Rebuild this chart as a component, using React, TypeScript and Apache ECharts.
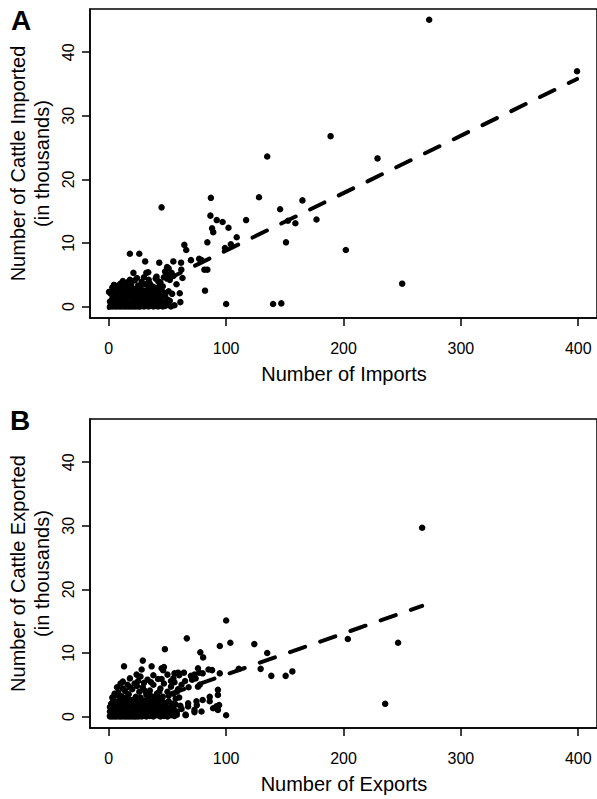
import React, { useEffect, useRef } from "react";
import * as echarts from "echarts";

const xTicks = [0, 100, 200, 300, 400];
const yTicks = [0, 10, 20, 30, 40];

// Panel A: imports (x = number of imports, y = cattle imported, thousands)
const importPoints: [number, number][] = [
  [273, 45.1], [399, 37.0], [189, 26.8], [229, 23.3], [135, 23.6], [165, 16.7], [87, 17.1], [128, 17.2],
  [45, 15.6], [146, 15.3], [177, 13.7], [86.6, 14.3], [92, 13.6], [97, 13.3], [117, 13.6], [159, 13.1],
  [152.7, 13.5], [102, 12.4], [88, 12.3], [89, 11.7], [151, 10.1], [109, 10.9], [104, 9.8], [99, 9.2],
  [84, 10.1], [64.4, 9.7], [66, 8.9], [202, 8.9], [250, 3.6], [18, 8.3], [26, 8.3], [31, 7.1], [43, 6.9],
  [55, 7.1], [61.6, 6.9], [70, 7.3], [77, 7.5], [79, 7.3], [81.5, 5.8], [84, 5.8], [82, 2.5], [100, 0.4],
  [140, 0.4], [147, 0.5], [61, 0.7],
  [1, 0], [2, 0.1], [3, 0], [4, 0.2], [5, 0], [6, 0.1], [7, 0], [8, 0.3], [9, 0], [10, 0.1], [11, 0],
  [12, 0.2], [13, 0], [14, 0.1], [15, 0], [16, 0.3], [17, 0], [18, 0.1], [19, 0], [20, 0.2], [21, 0],
  [22, 0.1], [23, 0], [24, 0.3], [25, 0], [26, 0.1], [27, 0], [28, 0.2], [30, 0], [32, 0.1], [34, 0],
  [36, 0.2], [38, 0], [40, 0.1], [42, 0], [44, 0.2], [46, 0], [48, 0.1], [50, 0.3], [53, 0], [56, 0.2],
  [1, 0.8], [3, 1.2], [5, 0.6], [7, 1.4], [9, 0.9], [11, 1.3], [13, 0.7], [15, 1.1], [17, 0.5], [19, 1.5],
  [21, 0.8], [23, 1.2], [25, 0.6], [27, 1.0], [29, 1.4], [31, 0.7], [33, 1.1], [35, 0.9], [37, 1.3],
  [39, 0.6], [41, 1.0], [43, 0.8], [45, 1.2], [47, 0.7], [50, 1.1], [52, 0.9],
  [2, 2.0], [4, 2.6], [6, 1.8], [8, 2.3], [10, 2.8], [12, 1.9], [14, 2.4], [16, 2.9], [18, 2.1], [20, 2.6],
  [22, 1.7], [24, 2.2], [26, 2.7], [28, 2.0], [30, 2.5], [32, 1.8], [34, 2.9], [36, 2.3], [38, 1.9],
  [40, 2.7], [42, 2.1], [45, 2.5], [48, 1.8], [51, 2.4], [54, 2.0],
  [6, 3.2], [10, 3.6], [13, 3.1], [16, 3.8], [19, 3.4], [22, 4.1], [25, 3.3], [28, 3.9], [31, 3.5],
  [34, 4.2], [37, 3.2], [40, 4.4], [44, 3.8], [47, 4.6], [50, 5.0], [52, 4.2], [55, 4.8], [48, 5.5], [51, 6.0],
  [1.6, 2.1], [0.2, 2.3], [4.4, 3.4], [21, 5.3], [32, 5.3], [33.6, 5.4], [40.7, 4.7], [43.5, 3.4],
  [49.7, 6.2], [53.5, 5.3], [61.8, 5.8], [62.8, 4.5], [57.7, 3.5], [60.5, 2.1],
  [2, 0.5], [6, 0.4], [10, 0.5], [14, 0.4], [18, 0.6], [22, 0.4], [26, 0.5], [30, 0.4], [34, 0.5],
  [38, 0.4], [42, 0.5], [46, 0.6], [4, 1.6], [8, 1.7], [12, 1.5], [16, 1.6], [20, 1.5], [24, 1.6],
  [28, 1.5], [32, 1.4], [36, 1.6], [40, 1.5], [44, 1.7], [3, 3.0], [8, 3.3], [12, 4.0], [15, 3.0],
  [18, 4.2], [24, 4.5], [27, 3.0], [30, 4.6], [35, 3.6], [39, 3.0], [42, 4.0], [46, 3.2], [11, 2.3],
  [15, 2.0], [19, 2.5], [23, 2.8], [27, 2.3], [31, 2.0], [35, 2.5], [39, 2.4], [43, 2.9], [47, 2.2],
];

// Panel B: exports
const exportPoints: [number, number][] = [
  [267, 29.7], [203.7, 12.2], [246.5, 11.6], [235.5, 2.0], [100, 15.1], [66.5, 12.3], [103.6, 11.6],
  [124, 11.4], [47.8, 10.6], [94.6, 11.1], [78, 10.1], [80.4, 9.3], [135, 10.0], [13, 7.9], [29, 8.8],
  [36.5, 7.9], [28, 7.4], [45, 7.6], [47, 7.8], [56, 6.8], [59, 6.9], [76, 7.6], [88, 7.3], [85, 7.4],
  [110.7, 7.5], [129.4, 7.5], [138.5, 6.4], [150.7, 6.4], [156.4, 7.1], [100, 0.2], [65.6, 0.2], [73, 0.7],
  [75, 1.8], [86, 3.1], [93, 4.2], [93, 3.4], [91.7, 1.6], [94, 1.8], [80, 2.6], [76, 4.7], [67.6, 1.6],
  [61, 1.7], [80, 6.8], [94.6, 6.8], [93, 1.05], [79, 0.8], [77.5, 5.0], [23.7, 6.6], [46.3, 7.3],
  [73, 6.6], [77, 6.9], [65.4, 0.3], [73, 1.05], [86, 2.4], [74.7, 2.4], [67.6, 2.1], [88.9, 1.3],
  [1, 0], [2, 0.1], [3, 0], [4, 0.2], [5, 0], [6, 0.1], [7, 0], [8, 0.2], [9, 0], [10, 0.1], [11, 0],
  [12, 0.2], [13, 0], [14, 0.1], [15, 0], [16, 0.2], [17, 0], [18, 0.1], [19, 0], [20, 0.2], [21, 0],
  [22, 0.1], [23, 0], [24, 0.2], [25, 0], [26, 0.1], [28, 0], [30, 0.2], [32, 0], [35, 0.1], [38, 0],
  [41, 0.2], [44, 0], [47, 0.1], [50, 0], [53, 0.2], [56, 0.1],
  [1, 0.8], [3, 1.2], [5, 0.6], [7, 1.4], [9, 0.9], [11, 1.3], [13, 0.7], [15, 1.1], [17, 0.5], [19, 1.5],
  [21, 0.8], [23, 1.2], [25, 0.6], [27, 1.0], [29, 1.4], [31, 0.7], [33, 1.1], [35, 0.9], [37, 1.3],
  [39, 0.6], [41, 1.0], [43, 0.8], [45, 1.2], [47, 0.7], [50, 1.1], [52, 0.9], [55, 1.3], [58, 0.8],
  [2, 2.0], [4, 2.6], [6, 1.8], [8, 2.3], [10, 2.8], [12, 1.9], [14, 2.4], [16, 2.9], [18, 2.1], [20, 2.6],
  [22, 1.7], [24, 2.2], [26, 2.7], [28, 2.0], [30, 2.5], [32, 1.8], [34, 2.9], [36, 2.3], [38, 1.9],
  [40, 2.7], [42, 2.1], [45, 2.5], [48, 1.8], [51, 2.4], [54, 2.0], [57, 2.8], [60, 3.0],
  [3, 3.0], [5, 3.4], [8, 3.8], [11, 3.2], [14, 4.0], [17, 3.5], [20, 4.3], [23, 3.1], [26, 3.9],
  [29, 4.6], [32, 3.4], [35, 4.1], [38, 5.0], [41, 3.6], [44, 4.4], [47, 5.2], [50, 3.9], [53, 4.7],
  [56, 5.4], [59, 4.3], [62, 5.0], [65, 5.6], [68, 4.6], [71, 5.8], [74, 6.0],
  [12, 5.5], [18, 6.0], [22, 5.2], [27, 6.3], [33, 5.8], [38, 6.5], [42, 5.9], [50, 6.6], [55, 6.0],
  [60, 6.5], [64, 6.9], [70, 6.4], [1, 1.5], [4, 2.6], [5, 3.6],
  [2, 0.5], [6, 0.4], [10, 0.5], [14, 0.4], [18, 0.6], [22, 0.4], [26, 0.5], [30, 0.4], [34, 0.5],
  [38, 0.4], [42, 0.5], [46, 0.6], [50, 0.4], [54, 0.5], [58, 0.3], [4, 1.6], [8, 1.7], [12, 1.5],
  [16, 1.6], [20, 1.5], [24, 1.6], [28, 1.5], [32, 1.4], [36, 1.6], [40, 1.5], [44, 1.7], [49, 1.5],
  [53, 1.6], [57, 1.9], [62, 1.2], [8, 3.3], [12, 4.4], [15, 3.0], [18, 4.6], [24, 4.8], [27, 3.0],
  [31, 4.0], [35, 3.4], [39, 3.1], [43, 3.9], [46, 3.1], [51, 3.3], [55, 3.6], [58, 3.9], [11, 2.3],
  [15, 2.0], [19, 2.5], [23, 2.8], [27, 2.3], [31, 2.0], [35, 2.5], [39, 2.4], [43, 2.9], [47, 2.2],
  [7, 4.6], [10, 5.2], [16, 5.0], [25, 5.6], [30, 5.3], [36, 5.4], [45, 5.9], [53, 5.6],
];

// Fitted lines (endpoints of the fitted values)
const fitImportsX = [0, 399];
const fitImportsY = [-0.2, 35.8];
const fitExportsX = [0, 267];
const fitExportsY = [0.16, 17.4];

const FONT = '"Liberation Sans", Arial, Helvetica, sans-serif';

export default function App() {
  const ref = useRef<HTMLDivElement>(null);
  useEffect(() => {
    if (!ref.current) return;
    const chart = echarts.init(ref.current, undefined, { renderer: "svg" });
    const grids = [
      { left: 90, top: 9, width: 508, height: 309 },
      { left: 90, top: 419, width: 508, height: 309 },
    ];
    const xAxis = [0, 1].map((i) => ({
      gridIndex: i,
      type: "value",
      min: -16,
      max: 416,
      splitLine: { show: false },
      axisLine: { show: true, onZero: false, lineStyle: { color: "#000", width: 1.5 } },
      axisTick: { show: true, length: 8, customValues: xTicks, lineStyle: { color: "#000", width: 1.5 } },
      axisLabel: { customValues: xTicks, margin: 22, fontSize: 16, color: "#000", fontFamily: FONT },
    }));
    const yAxis = [0, 1].map((i) => ({
      gridIndex: i,
      type: "value",
      min: -1.8,
      max: 46.8,
      splitLine: { show: false },
      axisLine: { show: true, onZero: false, lineStyle: { color: "#000", width: 1.5 } },
      axisTick: { show: true, length: 8, customValues: yTicks, lineStyle: { color: "#000", width: 1.5 } },
      axisLabel: { show: false },
    }));
    const lineStyle = { color: "#000", width: 4, type: [16, 16], cap: "round" };
    const txt = (text: string, x: number, y: number, font: string, rotation = 0) => ({
      type: "text",
      x,
      y,
      rotation,
      style: { text, font, fill: "#000", textAlign: "center", textVerticalAlign: "middle" },
    });
    const scatterStyle = { color: "#000", opacity: 1 };
    chart.setOption({
      animation: false,
      grid: grids.map((g) => ({ ...g, show: true, borderColor: "#000", borderWidth: 1.5 })),
      xAxis,
      yAxis,
      series: [
        {
          type: "scatter",
          xAxisIndex: 0,
          yAxisIndex: 0,
          data: importPoints,
          symbolSize: 6.5,
          itemStyle: scatterStyle,
        },
        {
          type: "line",
          xAxisIndex: 0,
          yAxisIndex: 0,
          data: fitImportsX.map((x, i) => [x, fitImportsY[i]]),
          symbol: "none",
          lineStyle,
        },
        {
          type: "scatter",
          xAxisIndex: 1,
          yAxisIndex: 1,
          data: exportPoints,
          symbolSize: 6.5,
          itemStyle: scatterStyle,
        },
        {
          type: "line",
          xAxisIndex: 1,
          yAxisIndex: 1,
          data: fitExportsX.map((x, i) => [x, fitExportsY[i]]),
          symbol: "none",
          lineStyle,
        },
      ],
    });
    // y tick labels, rotated as in the original; positioned through the axis scale
    const yLabels: any[] = [];
    [0, 1].forEach((gi) => {
      yTicks.forEach((v) => {
        const p = chart.convertToPixel({ gridIndex: gi }, [0, v]) as number[];
        yLabels.push(txt(String(v), 68.5, p[1], `16px ${FONT}`, Math.PI / 2));
      });
    });
    chart.setOption({
      graphic: [
        txt("A", 21, 20, `bold 28px ${FONT}`),
        txt("B", 20, 420, `bold 28px ${FONT}`),
        txt("Number of Cattle Imported", 18, 163.5, `20px ${FONT}`, Math.PI / 2),
        txt("(in thousands)", 42, 163.5, `20px ${FONT}`, Math.PI / 2),
        txt("Number of Cattle Exported", 18, 573.5, `20px ${FONT}`, Math.PI / 2),
        txt("(in thousands)", 42, 573.5, `20px ${FONT}`, Math.PI / 2),
        txt("Number of Imports", 344, 374, `20px ${FONT}`),
        txt("Number of Exports", 344, 784, `20px ${FONT}`),
        ...yLabels,
      ],
    });
    return () => chart.dispose();
  }, []);
  return (
    <div
      ref={ref}
      style={{ position: "absolute", left: 0, top: 0, width: 597, height: 799, background: "#fff" }}
    />
  );
}
